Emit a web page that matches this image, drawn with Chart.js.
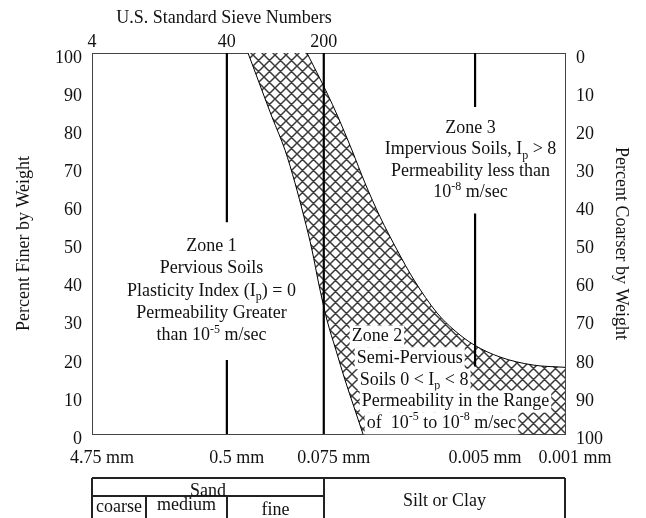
<!DOCTYPE html>
<html>
<head>
<meta charset="utf-8">
<script src="https://cdn.jsdelivr.net/npm/chart.js@4.4.1/dist/chart.umd.min.js"></script>
<style>
  html, body { margin: 0; padding: 0; background: #fff; }
</style>
</head>
<body>
<canvas id="soilChart" width="646" height="518"></canvas>
<script>
// grain size in mm / percent finer by weight
const leftCurveMm = [0.291, 0.235, 0.1895, 0.150, 0.1256, 0.1069, 0.0926, 0.0817, 0.0708, 0.0603, 0.0513, 0.0437, 0.0372];
const leftCurvePct = [100, 91.6, 83.2, 74.5, 65.9, 57.0, 48.3, 39.1, 29.9, 22.0, 14.2, 7.1, 0];
const rightCurveMm = [0.1013, 0.0708, 0.0581, 0.0453, 0.0359, 0.0274, 0.0202, 0.0149, 0.00989, 0.00729, 0.00510, 0.00320, 0.00177, 0.001];
const rightCurvePct = [100, 89.5, 83.2, 74.5, 65.9, 57.0, 48.3, 40.4, 31.8, 27.3, 23.4, 20.2, 18.1, 17.5];

// axis ticks
const sizeTicks = [4.75, 0.425, 0.075, 0.005, 0.001];
const sizeLabels = ['4.75 mm', '0.5 mm', '0.075 mm', '0.005 mm', '0.001 mm'];
const sieveTicks = [4.75, 0.425, 0.075];
const sieveLabels = ['4', '40', '200'];

// zone boundary lines (null = gap left for the zone text)
const line40Pct = [100, 55.6, null, 19.4, 0];
const line200Pct = [100, 0];
const line005Pct = [100, 85.8, null, 57.9, 17.7];

// soil class table under the chart
const sandBounds = [4.75, 1.8, 0.425, 0.075];
const sandParts = ['coarse', 'medium', 'fine'];

const FONT = '18px "Liberation Serif", "Times New Roman", serif';
const SMALL = '12px "Liberation Serif", "Times New Roman", serif';
const INK = '#111';

Chart.defaults.font.family = '"Liberation Serif", "Times New Roman", serif';
Chart.defaults.font.size = 18;
Chart.defaults.color = INK;

const pts = (xs, ys) => xs.map((x, i) => ({ x: x, y: ys[i] }));

// cross hatch for zone 2
function makeHatch() {
    const s = 11;
    const c = document.createElement('canvas');
    c.width = s; c.height = s;
    const p = c.getContext('2d');
    p.fillStyle = '#fff';
    p.fillRect(0, 0, s, s);
    p.strokeStyle = '#3a3a3a';
    p.lineWidth = 1.5;
    p.beginPath();
    for (const o of [-s, 0, s]) {
        p.moveTo(o, 0); p.lineTo(o + s, s);
        p.moveTo(o, s); p.lineTo(o + s, 0);
    }
    p.stroke();
    return c;
}
const hatchCanvas = makeHatch();

// text with sub/superscripts: runs = string or [[text, 'sub'|'sup'|undefined], ...]
function drawRich(ctx, runs, x, y, align, bg) {
    const parts = (typeof runs === 'string' ? [[runs]] : runs).map(([t, k]) => ({ t, k }));
    let w = 0;
    for (const p of parts) {
        ctx.font = p.k ? SMALL : FONT;
        p.w = ctx.measureText(p.t).width;
        w += p.w;
    }
    let cx = align === 'center' ? x - w / 2 : x;
    if (bg) {
        ctx.fillStyle = '#fff';
        ctx.fillRect(cx - 2, y - 11, w + 4, 22);
    }
    ctx.fillStyle = INK;
    ctx.textAlign = 'left';
    ctx.textBaseline = 'middle';
    for (const p of parts) {
        ctx.font = p.k ? SMALL : FONT;
        const dy = p.k === 'sub' ? 6 : p.k === 'sup' ? -6 : 0;
        ctx.fillText(p.t, cx, y + dy);
        cx += p.w;
    }
}

const zones = [
    { at: [0.56, 49.2], align: 'center', lh: 22.2, bg: false, lines: [
        'Zone 1',
        'Pervious Soils',
        [['Plasticity Index (I'], ['p', 'sub'], [') = 0']],
        'Permeability Greater',
        [['than 10'], ['-5', 'sup'], [' m/sec']]
    ] },
    { at: [0.00543, 80.3], align: 'center', lh: 21.5, bg: false, lines: [
        'Zone 3',
        [['Impervious Soils, I'], ['p', 'sub'], [' > 8']],
        'Permeability less than',
        [['10'], ['-8', 'sup'], [' m/sec']]
    ] },
    { at: [0.0455, 25.6], align: 'left', lh: 21.7, bg: true, indent: [0, 5, 8, 10, 15], lines: [
        'Zone 2',
        'Semi-Pervious',
        [['Soils 0 < I'], ['p', 'sub'], [' < 8']],
        'Permeability in the Range',
        [['of  10'], ['-5', 'sup'], [' to 10'], ['-8', 'sup'], [' m/sec']]
    ] }
];

const hatchPlugin = {
    id: 'hatchBand',
    beforeDatasetsDraw(chart) {
        const ctx = chart.ctx, a = chart.chartArea;
        const L = chart.getDatasetMeta(0).dataset;
        const R = chart.getDatasetMeta(1).dataset;
        L.updateControlPoints(a, 'x');
        R.updateControlPoints(a, 'x');
        ctx.save();
        ctx.beginPath();
        ctx.rect(a.left, a.top, a.right - a.left, a.bottom - a.top);
        ctx.clip();
        ctx.beginPath();
        L.pathSegment(ctx, L.segments[0], { move: true });
        ctx.lineTo(chart.scales.x.getPixelForValue(0.001), chart.scales.y.getPixelForValue(0));
        R.pathSegment(ctx, R.segments[0], { move: false, reverse: true });
        ctx.closePath();
        ctx.fillStyle = ctx.createPattern(hatchCanvas, 'repeat');
        ctx.fill();
        ctx.restore();
    }
};

const notesPlugin = {
    id: 'notes',
    afterDatasetsDraw(chart) {
        const ctx = chart.ctx;
        const xs = chart.scales.x, ys = chart.scales.y;
        ctx.save();
        for (const z of zones) {
            const x0 = xs.getPixelForValue(z.at[0]);
            const y0 = ys.getPixelForValue(z.at[1]);
            z.lines.forEach((ln, i) => {
                const dx = z.indent ? z.indent[i] : 0;
                drawRich(ctx, ln, x0 + dx, y0 + i * z.lh, z.align, z.bg);
            });
        }
        ctx.restore();
    },
    afterDraw(chart) {
        const ctx = chart.ctx;
        const xs = chart.scales.x;
        ctx.save();
        // top title
        ctx.font = FONT;
        ctx.fillStyle = INK;
        ctx.textAlign = 'center';
        ctx.textBaseline = 'middle';
        ctx.fillText('U.S. Standard Sieve Numbers', 224, 18);

        // classification table
        const px = sandBounds.map((v) => Math.round(xs.getPixelForValue(v)));
        const right = Math.round(xs.getPixelForValue(0.001));
        const top = 478, mid = 496, bot = 530;
        ctx.strokeStyle = '#222';
        ctx.lineWidth = 2;
        ctx.beginPath();
        ctx.moveTo(px[0], top); ctx.lineTo(right, top);
        ctx.moveTo(px[0], mid); ctx.lineTo(px[3], mid);
        ctx.moveTo(px[0], top); ctx.lineTo(px[0], bot);
        ctx.moveTo(px[1], mid); ctx.lineTo(px[1], bot);
        ctx.moveTo(px[2], mid); ctx.lineTo(px[2], bot);
        ctx.moveTo(px[3], top); ctx.lineTo(px[3], bot);
        ctx.moveTo(right, top); ctx.lineTo(right, bot);
        ctx.stroke();

        ctx.textBaseline = 'alphabetic';
        ctx.fillText('Sand', (px[0] + px[3]) / 2, 496);
        ctx.fillText('Silt or Clay', (px[3] + right) / 2, 506);
        const base = [512, 510, 515];
        sandParts.forEach((t, i) => {
            ctx.fillText(t, (px[i] + px[i + 1]) / 2, base[i]);
        });
        ctx.restore();
    }
};

const thick = { borderColor: '#000', borderWidth: 2.2, pointRadius: 0, fill: false, spanGaps: false };
const thin = { borderColor: '#000', borderWidth: 1, pointRadius: 0, fill: false, cubicInterpolationMode: 'monotone' };
const noGrid = { display: false, drawTicks: false };
const frame = { display: true, color: '#444', width: 1 };

new Chart(document.getElementById('soilChart'), {
    type: 'line',
    data: {
        datasets: [
            Object.assign({ label: 'finer limit', data: pts(leftCurveMm, leftCurvePct) }, thin),
            Object.assign({ label: 'coarser limit', data: pts(rightCurveMm, rightCurvePct) }, thin),
            Object.assign({ label: 'No. 40', data: line40Pct.map((y) => ({ x: 0.425, y: y })) }, thick),
            Object.assign({ label: 'No. 200', data: line200Pct.map((y) => ({ x: 0.075, y: y })) }, thick),
            Object.assign({ label: '0.005 mm', data: line005Pct.map((y) => ({ x: 0.005, y: y })) }, thick)
        ]
    },
    options: {
        responsive: false,
        devicePixelRatio: 1,
        animation: false,
        layout: { padding: 0 },
        plugins: {
            legend: { display: false },
            tooltip: { enabled: false }
        },
        scales: {
            x: {
                type: 'logarithmic',
                position: 'bottom',
                reverse: true,
                min: 0.001,
                max: 4.75,
                grid: noGrid,
                border: frame,
                afterBuildTicks: (axis) => { axis.ticks = sizeTicks.map((v) => ({ value: v })); },
                afterFit: (axis) => { axis.height = 84; },
                ticks: {
                    autoSkip: false,
                    maxRotation: 0,
                    minRotation: 0,
                    padding: 13,
                    labelOffset: 10,
                    callback: (v, i) => sizeLabels[i]
                }
            },
            x2: {
                type: 'logarithmic',
                position: 'top',
                reverse: true,
                min: 0.001,
                max: 4.75,
                grid: noGrid,
                border: frame,
                afterBuildTicks: (axis) => { axis.ticks = sieveTicks.map((v) => ({ value: v })); },
                afterFit: (axis) => { axis.height = 53; },
                ticks: {
                    autoSkip: false,
                    maxRotation: 0,
                    minRotation: 0,
                    padding: 0,
                    callback: (v, i) => sieveLabels[i]
                }
            },
            y: {
                position: 'left',
                min: 0,
                max: 100,
                grid: noGrid,
                border: frame,
                afterFit: (axis) => { axis.width = 92; },
                ticks: { stepSize: 10, padding: 10, labelOffset: 5 },
                title: { display: true, text: 'Percent Finer by Weight', padding: { top: 13, bottom: 0 } }
            },
            y2: {
                position: 'right',
                min: 0,
                max: 100,
                reverse: true,
                grid: noGrid,
                border: frame,
                afterFit: (axis) => { axis.width = 81; },
                ticks: { stepSize: 10, padding: 11, labelOffset: 5 },
                title: { display: true, text: 'Percent Coarser by Weight', padding: { top: 14, bottom: 0 } }
            }
        }
    },
    plugins: [hatchPlugin, notesPlugin]
});
</script>
</body>
</html>
